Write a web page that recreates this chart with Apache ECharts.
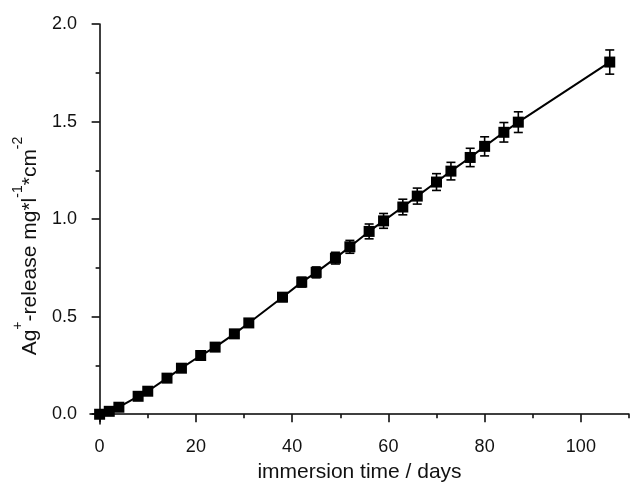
<!DOCTYPE html>
<html>
<head>
<meta charset="utf-8">
<script src="https://cdn.jsdelivr.net/npm/echarts@6/dist/echarts.min.js"></script>
<style>
html,body{margin:0;padding:0;background:#fff;}
#chart{width:631px;height:486px;}
</style>
</head>
<body>
<div id="chart"></div>
<script>
// immersion time (days)
const days = [0, 2, 4, 8, 10, 14, 17, 21, 24, 28, 31, 38, 42, 45, 49, 52, 56, 59, 63, 66, 70, 73, 77, 80, 84, 87, 106];
// Ag+ release (mg*l^-1*cm^-2)
const release = [0.0, 0.015, 0.036, 0.092, 0.118, 0.185, 0.236, 0.301, 0.344, 0.412, 0.468, 0.600, 0.677, 0.727, 0.800, 0.858, 0.937, 0.991, 1.062, 1.118, 1.190, 1.246, 1.316, 1.373, 1.445, 1.497, 1.805];
// error (+/-)
const errors = [0.005, 0.005, 0.005, 0.008, 0.008, 0.010, 0.012, 0.014, 0.015, 0.017, 0.019, 0.022, 0.025, 0.028, 0.030, 0.033, 0.038, 0.038, 0.040, 0.041, 0.043, 0.045, 0.047, 0.049, 0.050, 0.053, 0.062];

const xMajor = [0, 20, 40, 60, 80, 100];
const xMinor = [10, 30, 50, 70, 90, 110];
const yMajor = [0, 0.5, 1.0, 1.5, 2.0];
const yMinor = [0.25, 0.75, 1.25, 1.75];

const FONT = 'Liberation Sans, Arial, sans-serif';
const TXT = '#111';

const chart = echarts.init(document.getElementById('chart'));

const lineData = days.map((d, i) => [d, release[i]]);
const errData = days.map((d, i) => [d, release[i], errors[i]]);

const xBase = {
  type: 'value', min: -2, max: 110, gridIndex: 0,
  splitLine: {show: false}
};
const yBase = {
  type: 'value', min: -0.05, max: 2.0, gridIndex: 0,
  splitLine: {show: false}
};

chart.setOption({
  animation: false,
  backgroundColor: '#fff',
  grid: {left: 90, right: 2, top: 24, bottom: 62, containLabel: false, outerBoundsMode: 'none'},
  xAxis: [
    Object.assign({}, xBase, {
      position: 'bottom',
      name: 'immersion time / days',
      nameLocation: 'middle',
      nameGap: 38,
      nameTextStyle: {fontFamily: FONT, fontSize: 21, color: TXT},
      axisLine: {show: true, lineStyle: {color: '#000', width: 1.5}},
      axisTick: {show: true, inside: false, length: 8, customValues: xMajor, lineStyle: {color: '#000', width: 1.5}},
      axisLabel: {show: true, customValues: xMajor, margin: 14, fontFamily: FONT, fontSize: 18, color: TXT}
    }),
    Object.assign({}, xBase, {
      position: 'bottom',
      axisLine: {show: false},
      axisTick: {show: true, length: 4, customValues: xMinor, lineStyle: {color: '#000', width: 1.5}},
      axisLabel: {show: false}
    })
  ],
  yAxis: [
    Object.assign({}, yBase, {
      position: 'left',
      name: '{b|Ag}{sup|+}{b|-release mg*l}{sup|-1}{b|*cm}{sup|-2}',
      nameLocation: 'middle',
      nameGap: 38,
      nameRotate: 90,
      nameTextStyle: {
        fontFamily: FONT, color: TXT,
        padding: [0, 44, 0, 0],
        rich: {
          b: {fontFamily: FONT, fontSize: 21, color: TXT, lineHeight: 28, verticalAlign: 'bottom'},
          sup: {fontFamily: FONT, fontSize: 14, color: TXT, lineHeight: 30, verticalAlign: 'top'}
        }
      },
      axisLine: {show: true, lineStyle: {color: '#000', width: 1.5}},
      axisTick: {show: true, length: 8, customValues: yMajor, lineStyle: {color: '#000', width: 1.5}},
      axisLabel: {show: true, customValues: yMajor, margin: 13, fontFamily: FONT, fontSize: 18, color: TXT,
        formatter: v => Number(v).toFixed(1)}
    }),
    Object.assign({}, yBase, {
      position: 'left',
      axisLine: {show: false},
      axisTick: {show: true, length: 4, customValues: yMinor, lineStyle: {color: '#000', width: 1.5}},
      axisLabel: {show: false}
    })
  ],
  series: [
    {
      type: 'line',
      xAxisIndex: 0, yAxisIndex: 0,
      data: lineData,
      symbol: 'rect',
      symbolSize: 11,
      showSymbol: true,
      itemStyle: {color: '#000'},
      lineStyle: {color: '#000', width: 2},
      z: 3
    },
    {
      type: 'custom',
      xAxisIndex: 0, yAxisIndex: 0,
      data: errData,
      z: 4,
      renderItem: function (params, api) {
        const x = api.value(0), y = api.value(1), e = api.value(2);
        const top = api.coord([x, y + e]);
        const bot = api.coord([x, y - e]);
        const hw = 4.5;
        const style = {stroke: '#000', lineWidth: 1.6};
        return {
          type: 'group',
          children: [
            {type: 'line', shape: {x1: top[0], y1: top[1], x2: bot[0], y2: bot[1]}, style: style},
            {type: 'line', shape: {x1: top[0] - hw, y1: top[1], x2: top[0] + hw, y2: top[1]}, style: style},
            {type: 'line', shape: {x1: bot[0] - hw, y1: bot[1], x2: bot[0] + hw, y2: bot[1]}, style: style}
          ]
        };
      }
    }
  ]
});
</script>
</body>
</html>
